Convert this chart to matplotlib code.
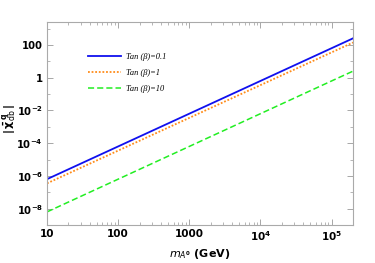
import numpy as np
import matplotlib.pyplot as plt
from matplotlib.ticker import LogLocator, FixedLocator, NullFormatter

# data
mass = [10, 100, 1000, 1e4, 1e5, 2e5]
chi_tb01 = [6.3e-7, 6.3e-5, 6.3e-3, 0.63, 63, 252]
chi_tb1 = [3.5e-7, 3.5e-5, 3.5e-3, 0.35, 35, 140]
chi_tb10 = [6.3e-9, 6.3e-7, 6.3e-5, 6.3e-3, 0.63, 2.5]
labels = ["Tan (β)=0.1", "Tan (β)=1", "Tan (β)=10"]

xticks = [10, 100, 1000, 1e4, 1e5]
xticklabels = ["10", "100", "1000", r"$10^4$", r"$10^5$"]
yticks = [1e-8, 1e-6, 1e-4, 1e-2, 1, 100]
yticklabels = [r"$10^{-8}$", r"$10^{-6}$", r"$10^{-4}$", r"$10^{-2}$", "1", "100"]

plt.rcParams['mathtext.default'] = 'bf'
fig = plt.figure(figsize=(3.75, 2.63), dpi=100)
ax = fig.add_axes([47/375, 1 - 225/263, 306/375, 203/263])

ax.plot(mass, chi_tb01, color='#1010ee', lw=1.3, label=labels[0])
ax.plot(mass, chi_tb1, color='#ff8c1a', lw=1.3, ls=(0, (1, 1)), label=labels[1])
ax.plot(mass, chi_tb10, color='#22ee22', lw=1.1, ls=(0, (4, 2)), label=labels[2])

ax.set_xscale('log')
ax.set_yscale('log')
ax.set_xlim(10, 2e5)
ax.set_ylim(10**-9, 10**3.4)

ax.set_xticks(xticks)
ax.set_xticklabels(xticklabels, fontweight='bold', fontsize=7.5)
ax.xaxis.set_minor_locator(LogLocator(base=10, subs=np.arange(2, 10)))
ax.xaxis.set_minor_formatter(NullFormatter())
ax.set_yticks(yticks)
ax.set_yticklabels(yticklabels, fontweight='bold', fontsize=7.2)
ax.yaxis.set_minor_locator(FixedLocator([1e-9, 1e-7, 1e-5, 1e-3, 0.1, 10, 1000]))
ax.yaxis.set_minor_formatter(NullFormatter())

ax.tick_params(which='both', direction='in', top=True, right=True, color='#999999')
ax.tick_params(which='major', length=4, width=0.6, pad=3)
ax.tick_params(which='minor', length=2, width=0.5)
for spine in ax.spines.values():
    spine.set_color('#aaaaaa')
    spine.set_linewidth(0.8)

ax.set_xlabel(r"$\mathit{m}_{\mathit{A}^0}$ (GeV)", fontweight='bold', fontsize=8)
ax.xaxis.set_label_coords(0.5, -0.11)
ax.set_ylabel(r"$|\,\bar{\chi}^{\,q}_{\mathrm{db}}\,|$", fontsize=8)
ax.yaxis.set_label_coords(-0.093, 0.52)

leg = ax.legend(loc='upper left', bbox_to_anchor=(0.11, 0.885), frameon=False,
                prop={'family': 'Liberation Serif', 'style': 'italic', 'size': 6},
                handlelength=4.0, labelspacing=0.95, handletextpad=0.5)

fig.savefig('out.png', dpi=100)
